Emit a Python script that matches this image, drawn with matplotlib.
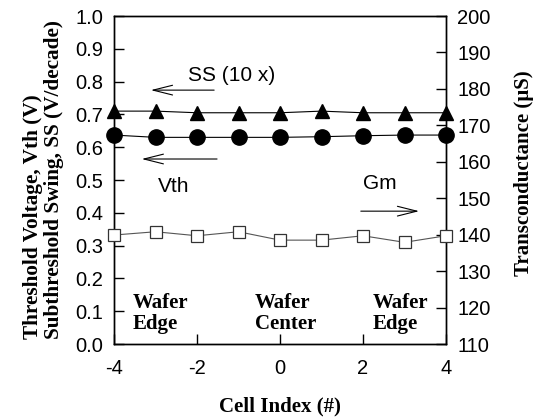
import matplotlib
matplotlib.use("Agg")
import matplotlib.pyplot as plt

plt.rcParams["axes.unicode_minus"] = False

cell = [-4, -3, -2, -1, 0, 1, 2, 3, 4]
ss_10x = [0.710, 0.710, 0.705, 0.705, 0.705, 0.710, 0.705, 0.705, 0.705]
vth = [0.637, 0.630, 0.630, 0.630, 0.630, 0.632, 0.635, 0.637, 0.637]
gm = [139.9, 140.8, 139.7, 140.8, 138.5, 138.5, 139.7, 137.9, 139.7]

sans = "Liberation Sans"
serif = "Liberation Serif"

fig = plt.figure(figsize=(5.36, 4.2), dpi=100)
ax = fig.add_axes([114/536, 1-344/420, (446-114)/536, (344-16)/420])
ax2 = ax.twinx()

ax.plot(cell, ss_10x, color="black", lw=0.8, marker="^", ms=10, mfc="black", mec="black", clip_on=False, zorder=5)
ax.plot(cell, vth, color="black", lw=0.8, marker="o", ms=11, mfc="black", mec="black", clip_on=False, zorder=5)
ax2.plot(cell, gm, color="#555555", lw=0.8, marker="s", ms=9, mfc="white", mec="#333333", mew=0.9, clip_on=False, zorder=5)

ax.set_xlim(-4, 4)
ax.set_ylim(0, 1.0)
ax2.set_ylim(110, 200)
ax.set_xticks([-4, -2, 0, 2, 4])
ax.set_yticks([i/10 for i in range(11)])
ax.set_yticklabels([f"{i/10:.1f}" for i in range(11)])
ax2.set_yticks(list(range(110, 201, 10)))

for a in (ax, ax2):
    for s in a.spines.values():
        s.set_linewidth(1.0)
ax.tick_params(axis="y", direction="in", length=7, width=1, labelsize=14.5, pad=8)
ax.tick_params(axis="x", direction="in", length=7, width=1, labelsize=14.5, pad=11)
ax2.tick_params(axis="y", direction="in", length=7, width=1, labelsize=14.5, pad=8)
for lab in ax.get_xticklabels() + ax.get_yticklabels() + ax2.get_yticklabels():
    lab.set_fontfamily(sans)

yl = ax.set_ylabel("Threshold Voltage, Vth (V)\nSubthreshold Swing, SS (V/decade)",
                   fontfamily=serif, fontweight="bold", fontsize=15.3, labelpad=8, linespacing=1.05)
yl.set_multialignment("left")
ax2.set_ylabel("Transconductance (\u00b5S)", fontfamily=serif, fontweight="bold", fontsize=15, labelpad=17)
ax2.yaxis.label.set_y(0.52)
ax.set_xlabel("Cell Index (#)", fontfamily=serif, fontweight="bold", fontsize=15, labelpad=13)

arrow = dict(arrowstyle="->,head_length=1.4,head_width=0.35", lw=0.8, color="black")
ax.text(-2.22, 0.82, "SS (10 x)", fontfamily=sans, fontsize=15, ha="left", va="center")
ax.annotate("", xy=(-3.18, 0.774), xytext=(-1.52, 0.774), arrowprops=arrow)
ax.annotate("", xy=(-3.40, 0.564), xytext=(-1.45, 0.564), arrowprops=arrow)
ax.text(-2.94, 0.479, "Vth", fontfamily=sans, fontsize=15, ha="left", va="center")
ax.text(2.0, 0.49, "Gm", fontfamily=sans, fontsize=15, ha="left", va="center")
ax.annotate("", xy=(3.42, 0.405), xytext=(1.88, 0.405), arrowprops=arrow)

for xpos, txt in [(-3.54, "Wafer\nEdge"), (-0.6, "Wafer\nCenter"), (2.24, "Wafer\nEdge")]:
    ax.text(xpos, 0.093, txt, fontfamily=serif, fontweight="bold", fontsize=15,
            ha="left", va="center", linespacing=1.1)

fig.savefig("out.png", dpi=100)
